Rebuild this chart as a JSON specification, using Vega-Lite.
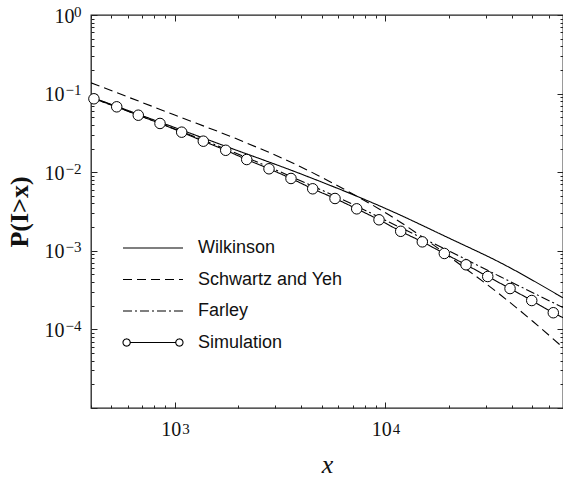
{
  "$schema": "https://vega.github.io/schema/vega-lite/v6.json",
  "width": 472,
  "height": 393,
  "autosize": {"type": "none"},
  "padding": {"left": 91, "top": 15, "right": 0, "bottom": 70},
  "background": "white",
  "config": {
    "view": {"stroke": "#222", "strokeWidth": 1.3},
    "axis": {"domain": false, "grid": false, "tickColor": "#222", "tickWidth": 1, "labelColor": "#111", "labelOverlap": false, "labelFlush": false, "labelFont": "Liberation Serif"}
  },
  "data": {
    "values": [
      {"series": "Wilkinson", "x": 400, "y": 0.0905},
      {"series": "Wilkinson", "x": 1000, "y": 0.0370},
      {"series": "Wilkinson", "x": 1831, "y": 0.0204},
      {"series": "Wilkinson", "x": 3938, "y": 0.00960},
      {"series": "Wilkinson", "x": 10544, "y": 0.00326},
      {"series": "Wilkinson", "x": 20330, "y": 0.00143},
      {"series": "Wilkinson", "x": 35130, "y": 0.000710},
      {"series": "Wilkinson", "x": 70000, "y": 0.000252},
      {"series": "Schwartz and Yeh", "x": 400, "y": 0.1372},
      {"series": "Schwartz and Yeh", "x": 1000, "y": 0.0534},
      {"series": "Schwartz and Yeh", "x": 2043, "y": 0.0255},
      {"series": "Schwartz and Yeh", "x": 3938, "y": 0.01182},
      {"series": "Schwartz and Yeh", "x": 6807, "y": 0.00552},
      {"series": "Schwartz and Yeh", "x": 10544, "y": 0.00281},
      {"series": "Schwartz and Yeh", "x": 14640, "y": 0.00157},
      {"series": "Schwartz and Yeh", "x": 22680, "y": 0.000669},
      {"series": "Schwartz and Yeh", "x": 35130, "y": 0.000278},
      {"series": "Schwartz and Yeh", "x": 50420, "y": 0.000126},
      {"series": "Schwartz and Yeh", "x": 70000, "y": 0.0000588},
      {"series": "Farley", "x": 400, "y": 0.0892},
      {"series": "Farley", "x": 1000, "y": 0.03545},
      {"series": "Farley", "x": 2279, "y": 0.01472},
      {"series": "Farley", "x": 3938, "y": 0.00784},
      {"series": "Farley", "x": 6807, "y": 0.00406},
      {"series": "Farley", "x": 10544, "y": 0.00229},
      {"series": "Farley", "x": 20330, "y": 0.000980},
      {"series": "Farley", "x": 35130, "y": 0.000471},
      {"series": "Farley", "x": 70000, "y": 0.000190},
      {"series": "Simulation", "x": 413, "y": 0.0859},
      {"series": "Simulation", "x": 530, "y": 0.0679},
      {"series": "Simulation", "x": 671, "y": 0.0531},
      {"series": "Simulation", "x": 851, "y": 0.0417},
      {"series": "Simulation", "x": 1079, "y": 0.0323},
      {"series": "Simulation", "x": 1367, "y": 0.0248},
      {"series": "Simulation", "x": 1747, "y": 0.0190},
      {"series": "Simulation", "x": 2198, "y": 0.0145},
      {"series": "Simulation", "x": 2805, "y": 0.01105},
      {"series": "Simulation", "x": 3568, "y": 0.00832},
      {"series": "Simulation", "x": 4526, "y": 0.00615},
      {"series": "Simulation", "x": 5776, "y": 0.00463},
      {"series": "Simulation", "x": 7325, "y": 0.00342},
      {"series": "Simulation", "x": 9349, "y": 0.00248},
      {"series": "Simulation", "x": 11855, "y": 0.00177},
      {"series": "Simulation", "x": 15015, "y": 0.00130},
      {"series": "Simulation", "x": 19103, "y": 0.000925},
      {"series": "Simulation", "x": 24225, "y": 0.000664},
      {"series": "Simulation", "x": 30720, "y": 0.000471},
      {"series": "Simulation", "x": 39210, "y": 0.000331},
      {"series": "Simulation", "x": 49720, "y": 0.000233},
      {"series": "Simulation", "x": 62950, "y": 0.000163},
      {"series": "Simulation", "x": 70000, "y": 0.000141}
    ]
  },
  "layer": [
    {
      "mark": {"type": "line", "color": "black", "strokeWidth": 1.1, "clip": true, "interpolate": "monotone"},
      "encoding": {
        "x": {
          "field": "x", "type": "quantitative",
          "scale": {"type": "log", "domain": [400, 70000], "nice": false},
          "axis": {
            "orient": "bottom",
            "values": [400,500,600,700,800,900,1000,2000,3000,4000,5000,6000,7000,8000,9000,10000,20000,30000,40000,50000,60000],
            "labelExpr": "datum.value == 1000 || datum.value == 10000 ? '10' : ''",
            "tickSize": {"condition": {"test": "datum.value == 1000 || datum.value == 10000", "value": -6}, "value": -3},
            "labelAlign": "right",
            "labelOffset": 6,
            "labelPadding": 17,
            "labelFontSize": 20,
            "title": "x", "titleFont": "Liberation Serif", "titleFontStyle": "italic", "titleFontWeight": "normal", "titleFontSize": 26, "titleColor": "#111", "titlePadding": 9
          }
        },
        "y": {
          "field": "y", "type": "quantitative",
          "scale": {"type": "log", "domain": [0.00001, 1], "nice": false},
          "axis": {
            "orient": "left",
            "values": [0.00001,0.00002,0.00003,0.00004,0.00005,0.00006,0.00007,0.00008,0.00009,0.0001,0.0002,0.0003,0.0004,0.0005,0.0006,0.0007,0.0008,0.0009,0.001,0.002,0.003,0.004,0.005,0.006,0.007,0.008,0.009,0.01,0.02,0.03,0.04,0.05,0.06,0.07,0.08,0.09,0.1,0.2,0.3,0.4,0.5,0.6,0.7,0.8,0.9,1],
            "labelExpr": "datum.value == 1 || datum.value == 0.1 || datum.value == 0.01 || datum.value == 0.001 || datum.value == 0.0001 ? '10' : ''",
            "tickSize": {"condition": {"test": "datum.value == 1 || datum.value == 0.1 || datum.value == 0.01 || datum.value == 0.001 || datum.value == 0.0001 || datum.value == 0.00001", "value": -6}, "value": -3},
            "labelPadding": {"condition": {"test": "datum.value == 1", "value": 23}, "value": 33},
            "labelOffset": 1,
            "labelFontSize": 20,
            "title": "P(I>x)", "titleFont": "Liberation Serif", "titleFontWeight": "bold", "titleFontSize": 26, "titleColor": "#111", "titlePadding": 12
          }
        },
        "strokeDash": {
          "field": "series", "type": "nominal",
          "scale": {"domain": ["Wilkinson", "Schwartz and Yeh", "Farley", "Simulation"], "range": [[1, 0], [9, 5], [9, 3, 2, 3], [1, 0]]},
          "legend": {
            "title": null,
            "orient": "none",
            "legendX": 31,
            "legendY": 225,
            "padding": 0,
            "symbolType": "stroke",
            "symbolSize": 3600,
            "symbolStrokeWidth": 1.1,
            "symbolStrokeColor": "black",
            "clipHeight": 16,
            "rowPadding": 13.5,
            "labelOffset": 14,
            "labelFont": "Liberation Sans",
            "labelFontSize": 18,
            "labelColor": "#111",
            "labelLimit": 300,
            "encode": {
              "symbols": {
                "update": {
                  "shape": {"signal": "datum.value === 'Simulation' ? 'M-0.76,0L0.76,0M-0.76,0A0.12,0.12,0,1,1,-1,0A0.12,0.12,0,1,1,-0.76,0ZM1,0A0.12,0.12,0,1,1,0.76,0A0.12,0.12,0,1,1,1,0Z' : 'stroke'"},
                  "fill": {"signal": "datum.value === 'Simulation' ? 'white' : 'transparent'"},
                  "stroke": {"value": "black"},
                  "strokeWidth": {"value": 1.1},
                  "size": {"value": 3600},
                  "opacity": {"value": 1}
                }
              }
            }
          }
        }
      }
    },
    {
      "transform": [{"filter": "datum.series == 'Simulation' && datum.x < 65000"}],
      "mark": {"type": "point", "filled": true, "fill": "white", "stroke": "black", "strokeWidth": 1, "size": 110, "opacity": 1},
      "encoding": {
        "x": {
          "field": "x", "type": "quantitative",
          "scale": {"type": "log", "domain": [400, 70000], "nice": false},
          "axis": {
            "orient": "top",
            "values": [400,500,600,700,800,900,1000,2000,3000,4000,5000,6000,7000,8000,9000,10000,20000,30000,40000,50000,60000],
            "labels": false,
            "tickSize": {"condition": {"test": "datum.value == 1000 || datum.value == 10000", "value": -6}, "value": -3},
            "title": null
          }
        },
        "y": {
          "field": "y", "type": "quantitative",
          "scale": {"type": "log", "domain": [0.00001, 1], "nice": false},
          "axis": {
            "orient": "right",
            "values": [0.00001,0.00002,0.00003,0.00004,0.00005,0.00006,0.00007,0.00008,0.00009,0.0001,0.0002,0.0003,0.0004,0.0005,0.0006,0.0007,0.0008,0.0009,0.001,0.002,0.003,0.004,0.005,0.006,0.007,0.008,0.009,0.01,0.02,0.03,0.04,0.05,0.06,0.07,0.08,0.09,0.1,0.2,0.3,0.4,0.5,0.6,0.7,0.8,0.9,1],
            "labels": false,
            "tickSize": {"condition": {"test": "datum.value == 1 || datum.value == 0.1 || datum.value == 0.01 || datum.value == 0.001 || datum.value == 0.0001 || datum.value == 0.00001", "value": -6}, "value": -3},
            "title": null
          }
        }
      }
    },
    {
      "transform": [{"filter": "datum.series == 'Simulation'"}],
      "mark": {"type": "point", "opacity": 0},
      "encoding": {
        "x": {
          "field": "x", "type": "quantitative",
          "scale": {"type": "log", "domain": [400, 70000], "nice": false},
          "axis": {
            "orient": "bottom",
            "values": [1000, 10000],
            "labelExpr": "datum.value == 1000 ? '3' : '4'",
            "ticks": false,
            "labelAlign": "left",
            "labelOffset": 7,
            "labelPadding": 13,
            "labelFontSize": 15,
            "title": null
          }
        },
        "y": {
          "field": "y", "type": "quantitative",
          "scale": {"type": "log", "domain": [0.00001, 1], "nice": false},
          "axis": {
            "orient": "left",
            "values": [1, 0.1, 0.01, 0.001, 0.0001],
            "labelExpr": "datum.value == 1 ? '0' : datum.value == 0.1 ? '−1' : datum.value == 0.01 ? '−2' : datum.value == 0.001 ? '−3' : '−4'",
            "ticks": false,
            "labelAlign": "right",
            "labelOffset": -4,
            "labelPadding": 10,
            "labelFontSize": 15,
            "title": null
          }
        }
      }
    }
  ],
  "resolve": {"axis": {"x": "independent", "y": "independent"}}
}
